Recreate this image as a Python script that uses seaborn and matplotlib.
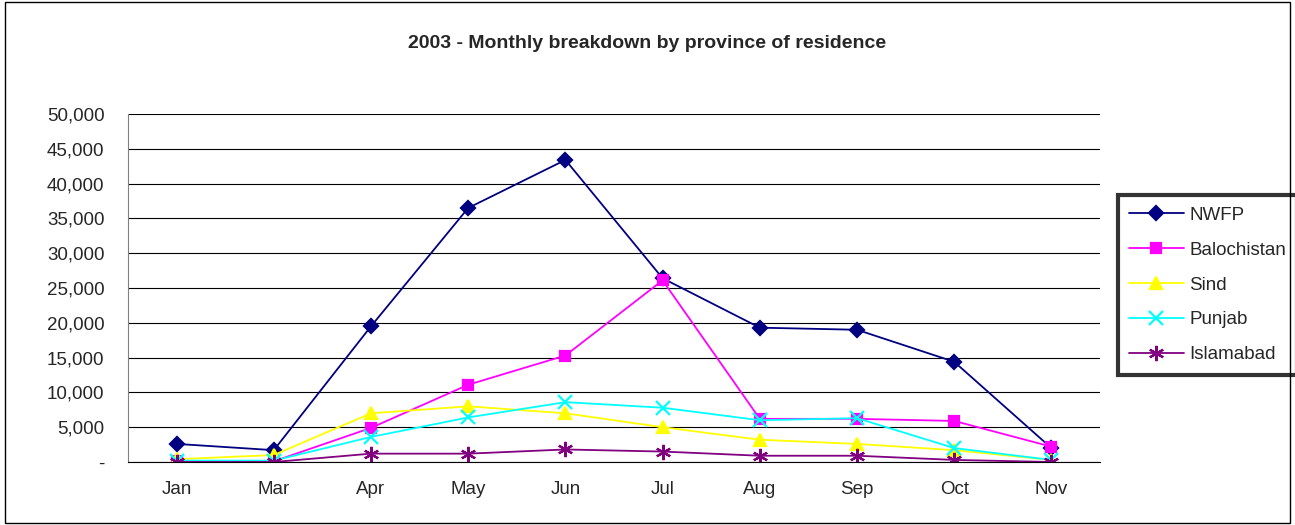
import matplotlib.pyplot as plt
import matplotlib.ticker as mticker
import pandas as pd
import seaborn as sns

months = ["Jan", "Mar", "Apr", "May", "Jun", "Jul", "Aug", "Sep", "Oct", "Nov"]
nwfp = [2600, 1700, 19500, 36500, 43400, 26400, 19300, 19000, 14400, 2000]
balochistan = [100, 100, 4900, 11100, 15300, 26100, 6200, 6200, 5900, 2200]
sind = [400, 1000, 7000, 8000, 7000, 5000, 3200, 2600, 1700, 300]
punjab = [200, 200, 3600, 6400, 8600, 7800, 6000, 6300, 2000, 300]
islamabad = [0, 0, 1200, 1200, 1800, 1500, 900, 900, 300, 0]

provinces = ["NWFP", "Balochistan", "Sind", "Punjab", "Islamabad"]
colors = ["#000080", "#FF00FF", "#FFFF00", "#00FFFF", "#800080"]
markers = ["D", "s", "^", "x", (6, 2, 0)]
sizes = [7, 7, 8, 10, 11]

series = [nwfp, balochistan, sind, punjab, islamabad]

sns.set_style("white")
plt.rcParams["font.family"] = ["Liberation Sans", "DejaVu Sans"]

fig = plt.figure(figsize=(12.95, 5.25), dpi=100)
ax = fig.add_axes([128 / 1295, 63 / 525, 972 / 1295, 348 / 525])

for name, vals, c, mk, ms in zip(provinces, series, colors, markers, sizes):
    d = pd.DataFrame({"month": range(len(months)), "value": vals})
    sns.lineplot(data=d, x="month", y="value", color=c, marker=mk, markersize=ms,
                 markeredgecolor=c, markerfacecolor=c, markeredgewidth=1.6,
                 linewidth=1.3, label=name, ax=ax)

ax.set_xlim(-0.5, len(months) - 0.5)
ax.set_ylim(0, 50000)
ax.set_xticks(range(len(months)))
ax.set_xticklabels(months, fontsize=13.5)
ax.set_xticks([i + 0.5 for i in range(-1, len(months))], minor=True)
ax.tick_params(axis="x", which="major", length=0, pad=14)
ax.tick_params(axis="x", which="minor", length=5, direction="out", color="black")
ax.set_yticks(range(0, 50001, 5000))
ax.yaxis.set_major_formatter(mticker.FuncFormatter(
    lambda v, p: "-" if v == 0 else f"{int(v):,}"))
ax.tick_params(axis="y", length=5, direction="out", labelsize=13.5, pad=12, color="black")
ax.grid(axis="y", color="black", linewidth=0.8)
ax.set_axisbelow(True)
for s in ["top", "right"]:
    ax.spines[s].set_visible(False)
ax.spines["left"].set_color("#808080")
ax.spines["bottom"].set_color("black")
ax.set_xlabel("")
ax.set_ylabel("")

fig.text(0.5, 1 - 44 / 525, "2003 - Monthly breakdown by province of residence",
         ha="center", va="center", fontsize=14, fontweight="bold")

handles, labels = ax.get_legend_handles_labels()
leg = ax.legend(handles, labels, loc="center left",
                bbox_to_anchor=(1118 / 1295, 1 - 285 / 525), bbox_transform=fig.transFigure,
                fontsize=13.5, frameon=True, fancybox=False, borderaxespad=0,
                handlelength=2.9, handletextpad=0.3, labelspacing=0.95, borderpad=0.6)
leg.get_frame().set_edgecolor("black")
leg.get_frame().set_linewidth(3)

fig.patches.append(plt.Rectangle((0.004, 0.004), 0.992, 0.992, transform=fig.transFigure,
                                 fill=False, edgecolor="black", linewidth=1))

fig.savefig("out.png", dpi=100)
